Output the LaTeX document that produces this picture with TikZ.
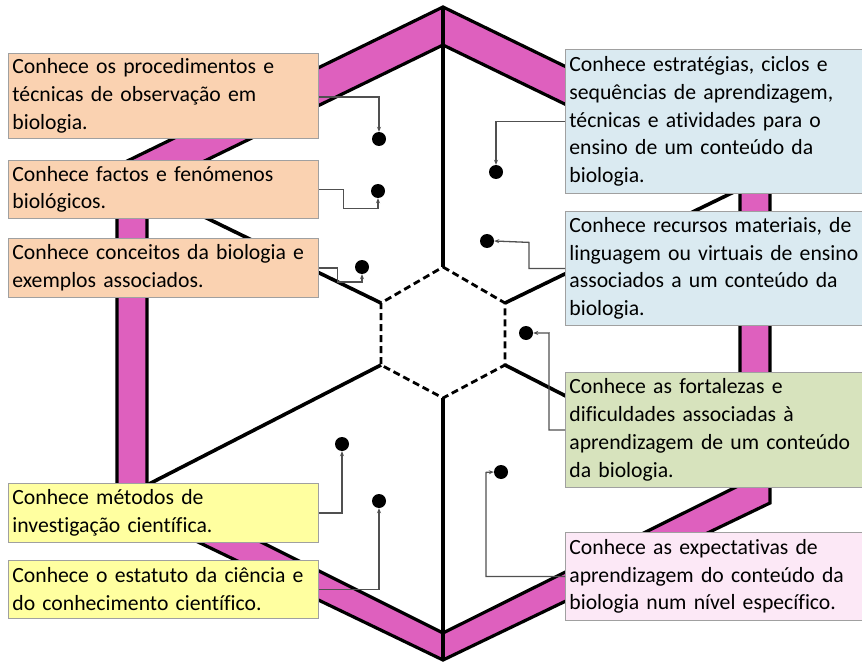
\documentclass[tikz,border=0pt]{standalone}
\usepackage{fontspec}
\setmainfont{Carlito}[Ligatures=NoCommon]
\usetikzlibrary{arrows.meta}

\definecolor{bandpink}{RGB}{222,96,190}
\definecolor{peach}{RGB}{250,210,177}
\definecolor{skyblue}{RGB}{218,234,241}
\definecolor{sage}{RGB}{215,227,189}
\definecolor{paleyellow}{RGB}{255,255,160}
\definecolor{palepink}{RGB}{252,232,246}
\definecolor{boxline}{RGB}{160,160,160}
\definecolor{connline}{RGB}{80,80,80}

\tikzset{
  infobox/.style={draw=boxline, line width=0.8pt, anchor=north west,
    inner sep=4pt, align=left, text width=#1,
    font=\fontsize{21.7}{27.8}\selectfont},
  dot/.style={circle, fill=black, inner sep=0pt, minimum size=14pt},
  conn/.style={draw=connline, line width=1.3pt,
    -{Stealth[length=5pt,width=4pt]}},
  edge/.style={line width=3.2pt, line join=miter},
  spoke/.style={line width=3.6pt},
  core/.style={line width=2.8pt, dash pattern=on 7pt off 4pt},
}

\begin{document}
\begin{tikzpicture}[x=1pt,y=-1pt]
\useasboundingbox (0,0) rectangle (862,663);

% outer and inner rims of the frame
\coordinate (o1) at (443,7);   \coordinate (o2) at (770,166);
\coordinate (o3) at (770,503); \coordinate (o4) at (443,660);
\coordinate (o5) at (117,503); \coordinate (o6) at (117,166);
\coordinate (i1) at (443,45);  \coordinate (i2) at (740,189);
\coordinate (i3) at (740,485); \coordinate (i4) at (443,633);
\coordinate (i5) at (147,485); \coordinate (i6) at (147,189);

% central hexagon
\coordinate (c1) at (443,267); \coordinate (c2) at (505,303);
\coordinate (c3) at (505,365); \coordinate (c4) at (443,398);
\coordinate (c5) at (381,365); \coordinate (c6) at (381,303);

% pink band
\fill[bandpink, even odd rule]
  (o1) -- (o2) -- (o3) -- (o4) -- (o5) -- (o6) -- cycle
  (i1) -- (i2) -- (i3) -- (i4) -- (i5) -- (i6) -- cycle;
\draw[edge] (o1) -- (o2) -- (o3) -- (o4) -- (o5) -- (o6) -- cycle;
\draw[edge] (i1) -- (i2) -- (i3) -- (i4) -- (i5) -- (i6) -- cycle;

% spokes
\draw[spoke] (o1) -- (c1);
\draw[spoke] (o4) -- (c4);
\draw[spoke] (i6) -- (c6);
\draw[spoke] (i5) -- (c5);
\draw[spoke] (i2) -- (c2);
\draw[spoke] (i3) -- (c3);

% dashed core
\draw[core] (c1) -- (c2) -- (c3) -- (c4) -- (c5) -- (c6) -- cycle;

% dots
\node[dot] (d1) at (379,139) {};
\node[dot] (d2) at (378,191) {};
\node[dot] (d3) at (362,267) {};
\node[dot] (d4) at (342,444) {};
\node[dot] (d5) at (379,501) {};
\node[dot] (d6) at (496,172) {};
\node[dot] (d7) at (487,241) {};
\node[dot] (d8) at (526,333) {};
\node[dot] (d9) at (501,472) {};

% boxes
\node[infobox=302pt, fill=peach, minimum height=85pt] (b1) at (8,53)
  {Conhece os procedimentos e\\técnicas de observação em\\biologia.};
\node[infobox=302pt, fill=peach, minimum height=58pt] (b2) at (8,160)
  {Conhece factos e fenómenos\\biológicos.};
\node[infobox=302pt, fill=peach, minimum height=59pt] (b3) at (8,238)
  {Conhece conceitos da biologia e\\exemplos associados.};
\node[infobox=302pt, fill=paleyellow, minimum height=59pt] (b4) at (8,483)
  {Conhece métodos de\\investigação científica.};
\node[infobox=302pt, fill=paleyellow, minimum height=58pt] (b5) at (8,560)
  {Conhece o estatuto da ciência e\\do conhecimento científico.};
\node[infobox=330pt, fill=skyblue, minimum height=144pt] (b6) at (565,49)
  {Conhece estratégias, ciclos e\\sequências de aprendizagem,\\técnicas e atividades para o\\ensino de um conteúdo da\\biologia.};
\node[infobox=330pt, fill=skyblue, minimum height=114pt] (b7) at (565,211)
  {Conhece recursos materiais, de\\linguagem ou virtuais de ensino\\associados a um conteúdo da\\biologia.};
\node[infobox=330pt, fill=sage, minimum height=115pt] (b8) at (565,372)
  {Conhece as fortalezas e\\dificuldades associadas à\\aprendizagem de um conteúdo\\da biologia.};
\node[infobox=330pt, fill=palepink, minimum height=88pt] (b9) at (565,532)
  {Conhece as expectativas de\\aprendizagem do conteúdo da\\biologia num nível específico.};

% connectors
\draw[conn] (b1.east |- 0,97) -| (d1.north);
\draw[conn] (b2.east) -| ++(25,19) -| (d2.south);
\draw[conn] (b3.east) -| ++(19,14) -| (d3.south);
\draw[conn] (b4.east) -| (d4.south);
\draw[conn] (b5.east) -| (d5.south);
\draw[conn] (b6.west) -| (d6.north);
\draw[conn] (b7.west) -| ++(-36,-26) -- (d7.east);
\draw[conn] (b8.west) -| ++(-16,-97) -- (d8.east);
\draw[conn] (b9.west) -| ++(-79,-104) -- (d9.west);
\end{tikzpicture}
\end{document}
